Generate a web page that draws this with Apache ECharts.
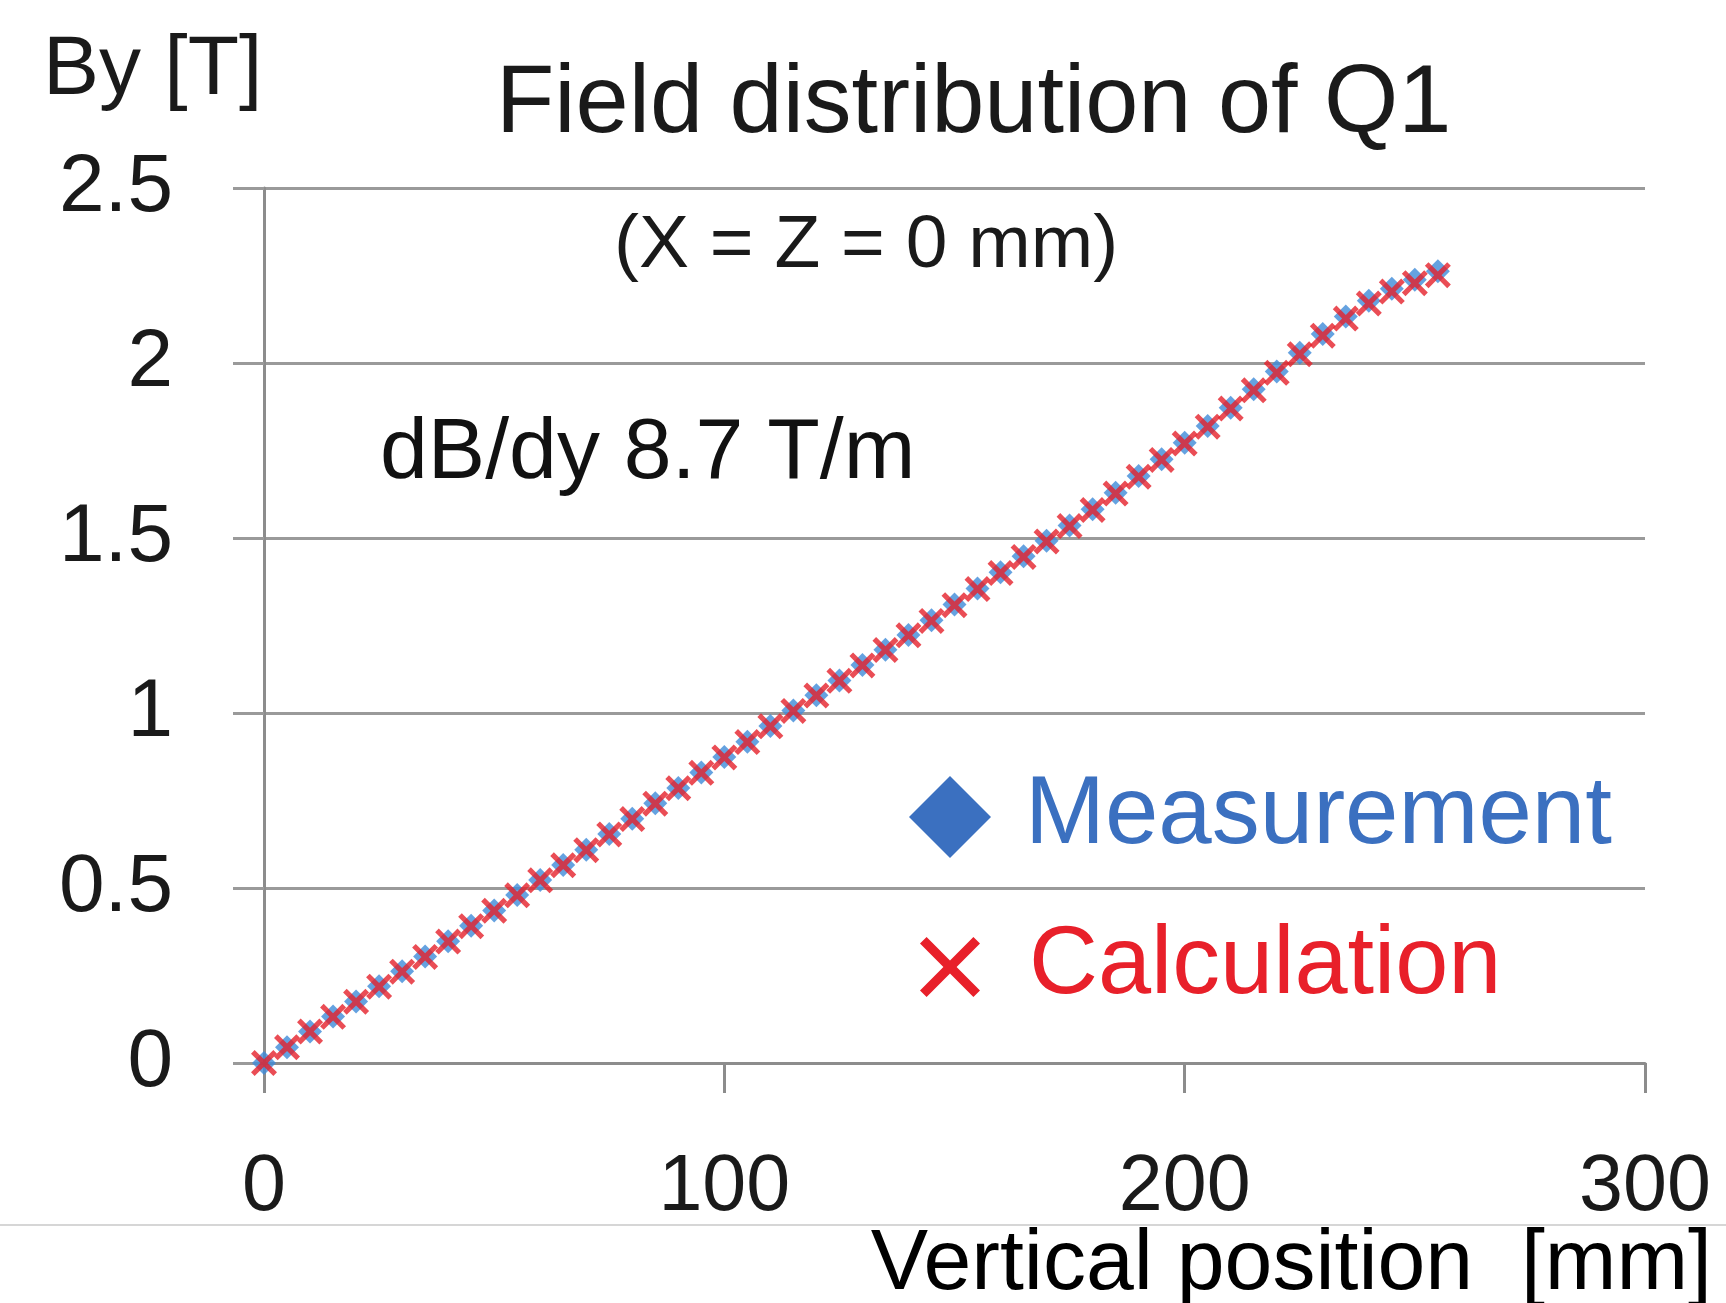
<!DOCTYPE html>
<html>
<head>
<meta charset="utf-8">
<script src="https://cdn.jsdelivr.net/npm/echarts@6/dist/echarts.min.js"></script>
<style>
html,body{margin:0;padding:0;background:#fff;}
#chart{width:1726px;height:1303px;}
</style>
</head>
<body>
<div id="chart"></div>
<script>
var positions = [0,5,10,15,20,25,30,35,40,45,50,55,60,65,70,75,80,85,90,95,100,105,110,115,120,125,130,135,140,145,150,155,160,165,170,175,180,185,190,195,200,205,210,215,220,225,230,235,240,245,250,255];
var calculation = [0,0.045,0.090,0.132,0.175,0.218,0.261,0.303,0.347,0.391,0.435,0.479,0.522,0.565,0.608,0.653,0.697,0.741,0.785,0.829,0.873,0.917,0.962,1.006,1.050,1.092,1.136,1.180,1.222,1.263,1.308,1.354,1.400,1.446,1.490,1.534,1.580,1.627,1.675,1.723,1.770,1.818,1.870,1.922,1.972,2.025,2.078,2.127,2.170,2.204,2.228,2.251];
var measurement = [0,0.045,0.090,0.133,0.176,0.219,0.262,0.304,0.348,0.392,0.436,0.480,0.523,0.566,0.609,0.654,0.698,0.742,0.786,0.830,0.874,0.918,0.963,1.007,1.051,1.093,1.137,1.181,1.223,1.265,1.310,1.356,1.402,1.448,1.492,1.536,1.582,1.629,1.677,1.725,1.772,1.820,1.872,1.925,1.976,2.029,2.083,2.133,2.178,2.212,2.238,2.262];
var xTicks = [0,100,200,300];
var yTicks = [0,0.5,1,1.5,2,2.5];

var crossPath = 'path://M0,1.4 L1.4,0 L5,3.6 L8.6,0 L10,1.4 L6.4,5 L10,8.6 L8.6,10 L5,6.4 L1.4,10 L0,8.6 L3.6,5 Z';
var crossLegend = 'path://M0,1.1 L1.1,0 L5,3.9 L8.9,0 L10,1.1 L6.1,5 L10,8.9 L8.9,10 L5,6.1 L1.1,10 L0,8.9 L3.9,5 Z';
var FONT = 'Liberation Sans, Arial, sans-serif';

function pairs(xs, ys){ return xs.map(function(x,i){ return [x, ys[i]]; }); }

var chart = echarts.init(document.getElementById('chart'), null, {renderer:'canvas'});
chart.setOption({
  backgroundColor:'#ffffff',
  animation:false,
  title:[
    {text:'Field distribution of Q1', left:491, top:53, textStyle:{fontFamily:FONT, fontSize:95.5, fontWeight:'normal', color:'#1a1a1a'}},
    {text:'By [T]', left:38, top:24, textStyle:{fontFamily:FONT, fontSize:84, fontWeight:'normal', color:'#1a1a1a'}},
    {text:'(X = Z = 0 mm)', left:609, top:204, textStyle:{fontFamily:FONT, fontSize:75, fontWeight:'normal', color:'#1a1a1a'}},
    {text:'dB/dy 8.7 T/m', left:375, top:406, textStyle:{fontFamily:FONT, fontSize:86, fontWeight:'normal', color:'#111111'}},
    {text:'Vertical position  [mm]', right:9, top:1217, textStyle:{fontFamily:FONT, fontSize:86, fontWeight:'normal', color:'#000000'}}
  ],
  legend:[
    {left:904, top:764, orient:'vertical', itemWidth:82, itemHeight:82, selectedMode:false,
     itemStyle:{color:'#3b70c0', opacity:1},
     formatter:'{t|{name}}',
     data:[{name:'Measurement', icon:'diamond', itemStyle:{color:'#3b70c0', opacity:1}}],
     textStyle:{rich:{t:{fontFamily:FONT, fontSize:96, color:'#3b70c0', padding:[0,0,0,29]}}}},
    {left:915, top:914, orient:'vertical', itemWidth:60, itemHeight:60, selectedMode:false,
     itemStyle:{color:'#e8202a', opacity:1},
     formatter:'{t|{name}}',
     data:[{name:'Calculation', icon:crossLegend, itemStyle:{color:'#e8202a', opacity:1}}],
     textStyle:{rich:{t:{fontFamily:FONT, fontSize:95.5, color:'#e8202a', padding:[0,0,0,44]}}}}
  ],
  grid:{left:264, right:81, top:188, bottom:240, containLabel:false},
  xAxis:{
    type:'value', min:xTicks[0], max:xTicks[xTicks.length-1], interval:100,
    axisLine:{show:true, onZero:false, lineStyle:{color:'#8c8c8c', width:3}},
    axisTick:{show:true, inside:false, length:30, lineStyle:{color:'#8c8c8c', width:3}},
    axisLabel:{margin:86, fontFamily:FONT, fontSize:79, color:'#1a1a1a'},
    splitLine:{show:false}
  },
  yAxis:{
    type:'value', min:yTicks[0], max:yTicks[yTicks.length-1], interval:0.5,
    axisLine:{show:true, onZero:false, lineStyle:{color:'#8c8c8c', width:3}},
    axisTick:{show:true, inside:false, length:31, lineStyle:{color:'#9a9a9a', width:3}},
    axisLabel:{margin:91, fontFamily:FONT, fontSize:82, color:'#1a1a1a'},
    splitLine:{show:true, lineStyle:{color:'#9a9a9a', width:3}}
  },
  graphic:[
    {type:'line', shape:{x1:0, y1:1225, x2:1726, y2:1225}, style:{stroke:'#d6d6d6', lineWidth:2}, silent:true}
  ],
  series:[
    {name:'Measurement', type:'scatter', symbol:'diamond', symbolSize:24,
     itemStyle:{color:'#3f8bd8'}, data:pairs(positions, measurement), z:2},
    {name:'Calculation', type:'scatter', symbol:crossPath, symbolSize:26,
     itemStyle:{color:'#e5212b'}, data:pairs(positions, calculation), z:3}
  ]
});
</script>
</body>
</html>
